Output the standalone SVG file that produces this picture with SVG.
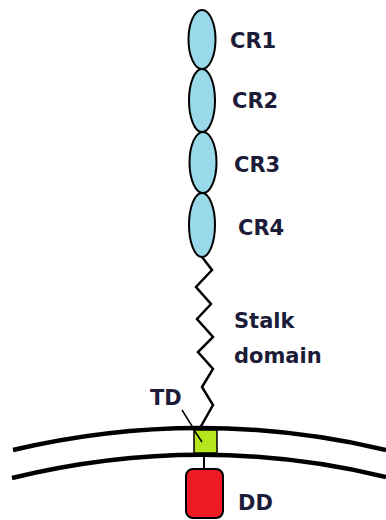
<svg xmlns="http://www.w3.org/2000/svg" width="386" height="520" viewBox="0 0 386 520">
<style>
.cr{fill:#99d9ea;stroke:#000;stroke-width:2}
.lbl{font-family:"DejaVu Sans",sans-serif;font-weight:bold;font-size:21px;fill:#1c1c38}
.mem{fill:none;stroke:#000;stroke-width:4.5}
.wire{fill:none;stroke:#000;stroke-linejoin:miter}
</style>
<rect width="386" height="520" fill="#fff"/>
<path class="mem" d="M13 450 Q200 406 386 450"/>
<path class="mem" d="M12 478 Q200 432 386 477"/>
<g id="connectors">
<polyline class="wire" stroke-width="2.5" points="202,257 212,270 196,287 211,304 197,319 213,337 198,352 213,369 202,387 213,405 200,428"/>
<line class="wire" stroke-width="1.5" x1="182" y1="410" x2="202" y2="442"/>
<line class="wire" stroke-width="2" x1="204" y1="453" x2="204" y2="469"/>
</g>
<g id="CR1"><ellipse class="cr" cx="202" cy="39.5" rx="13.5" ry="29.5"/><text class="lbl" x="230" y="48">CR1</text></g>
<g id="CR2"><ellipse class="cr" cx="202" cy="100.5" rx="13" ry="31.5"/><text class="lbl" x="232" y="108">CR2</text></g>
<g id="CR3"><ellipse class="cr" cx="203" cy="162.5" rx="13.5" ry="30.5"/><text class="lbl" x="234" y="172">CR3</text></g>
<g id="CR4"><ellipse class="cr" cx="202" cy="225" rx="13" ry="32"/><text class="lbl" x="238" y="235">CR4</text></g>
<g id="stalk"><text class="lbl" x="234" y="328">Stalk</text><text class="lbl" x="234" y="363">domain</text></g>
<g id="TD"><rect x="194" y="430" width="23" height="23" fill="#b5e61d" stroke="#000" stroke-width="1.5"/><line x1="194" y1="430" x2="202" y2="442" stroke="#000" stroke-width="1.5"/><text class="lbl" font-size="20" x="150" y="405">TD</text></g>
<g id="DD"><rect x="186" y="469" width="37" height="49" rx="7" fill="#ed1c24" stroke="#000" stroke-width="2"/><text class="lbl" x="238" y="510">DD</text></g>
</svg>
